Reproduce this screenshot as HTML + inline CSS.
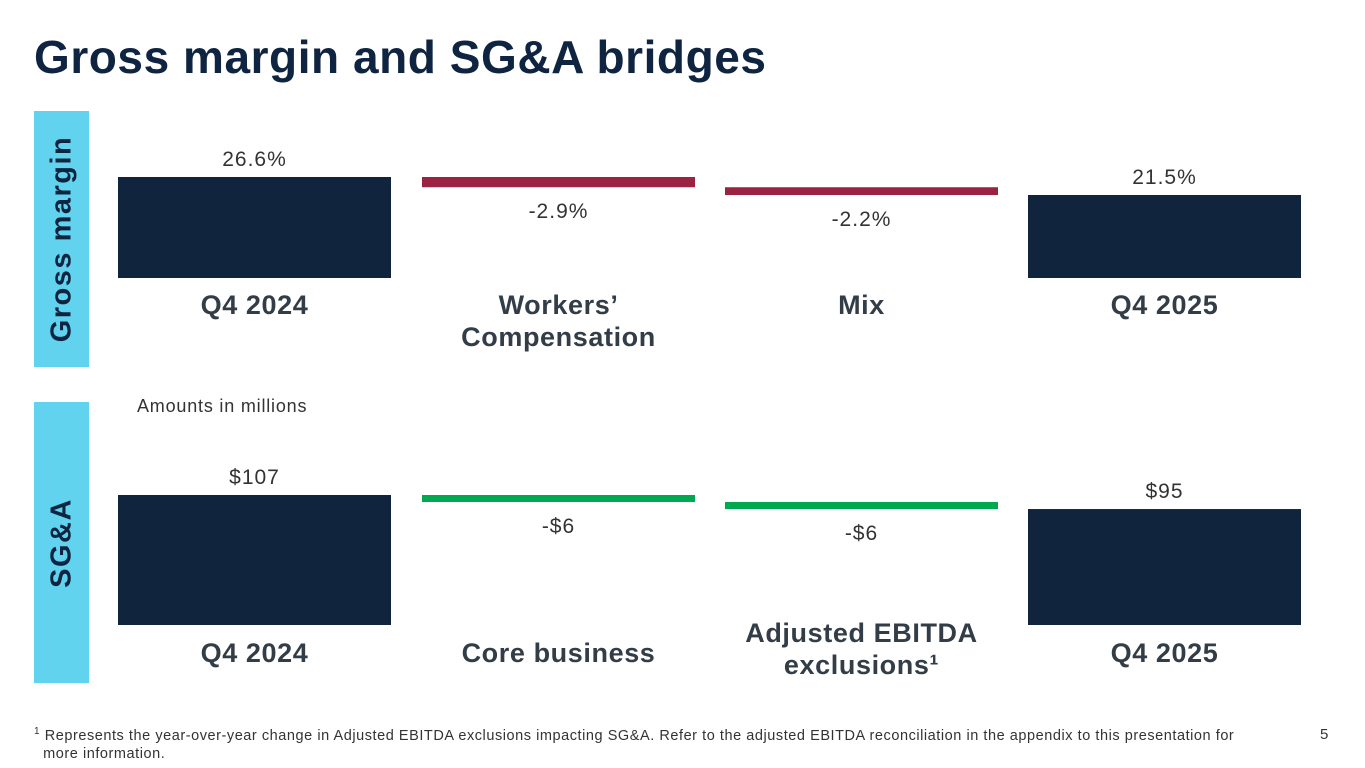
<!DOCTYPE html>
<html><head><meta charset="utf-8">
<style>
html,body{margin:0;padding:0;background:#fff;}
body{width:1365px;height:768px;position:relative;overflow:hidden;font-family:"Liberation Sans",sans-serif;}
.title{position:absolute;left:34px;top:30px;font-size:46px;font-weight:bold;color:#0f2440;letter-spacing:0.55px;}
.band{position:absolute;left:34px;width:55px;background:#62d3ee;}
.band span{position:absolute;left:50%;top:50%;transform:translate(-50%,-50%) rotate(-90deg);white-space:nowrap;font-size:29px;font-weight:bold;color:#0f2440;letter-spacing:1.5px;}
.note{position:absolute;left:137px;top:396px;font-size:18px;color:#333;letter-spacing:0.8px;}
.foot{position:absolute;left:34px;top:723px;font-size:14.5px;color:#333;line-height:18px;width:1260px;letter-spacing:0.55px;}
.pg{position:absolute;left:1320px;top:726px;font-size:15px;color:#333;}
svg{position:absolute;left:0;top:0;}
</style></head><body>
<div class="title">Gross margin and SG&amp;A bridges</div>
<div class="band" style="top:111px;height:256px"><span>Gross margin</span></div>
<div class="band" style="top:402px;height:281px"><span>SG&amp;A</span></div>
<div class="note">Amounts in millions</div>
<div class="foot"><sup style="font-size:10px">1</sup> Represents the year-over-year change in Adjusted EBITDA exclusions impacting SG&amp;A. Refer to the adjusted EBITDA reconciliation in the appendix to this presentation for<br>&nbsp;&nbsp;more information.</div>
<div class="pg">5</div>
<svg id="chart" width="1365" height="768"></svg>
<script>
const gmCategories = [["Q4 2024"],["Workers’","Compensation"],["Mix"],["Q4 2025"]];
const gmValues = [26.6, -2.9, -2.2, 21.5];
const gmLabels = ["26.6%","-2.9%","-2.2%","21.5%"];
const sgCategories = [["Q4 2024"],["Core business"],["Adjusted EBITDA","exclusions¹"],["Q4 2025"]];
const sgValues = [107, -6, -6, 95];
const sgLabels = ["$107","-$6","-$6","$95"];

const NS="http://www.w3.org/2000/svg";
const svg=document.getElementById('chart');
function mk(tag,attrs){const e=document.createElementNS(NS,tag);for(const k in attrs)e.setAttribute(k,attrs[k]);svg.appendChild(e);return e;}
const xs=[118,422,725,1028], bw=273;

function drawBridge(name,cats,vals,labels,cfg){
  const y=v=>cfg.refY-(v-cfg.refV)*cfg.k;
  let run=0;
  vals.forEach((v,i)=>{
    const total=(i===0||i===vals.length-1);
    let top,bot,col;
    if(total){top=y(v); bot=cfg.base; col="#10243e"; run=v;}
    else{const a=y(run),b=y(run+v); top=Math.min(a,b); bot=Math.max(a,b); col=cfg.neg; run+=v;}
    const r=mk('rect',{x:xs[i],y:top,width:bw,height:Math.max(bot-top,1),fill:col});
    
    
    const cx=xs[i]+bw/2;
    const t=mk('text',{x:cx,y:total?top-11:bot+31,'text-anchor':'middle','font-size':'21','fill':'#333','letter-spacing':'1'});
    t.textContent=labels[i];
    
    
    cats[i].forEach((ln,j)=>{
      const c=mk('text',{x:cx,y:cfg.catY-(cats[i].length>1&&cfg.up?20:0)+j*32,'text-anchor':'middle','font-size':'27','font-weight':'bold','fill':'#333d47','letter-spacing':'0.6'});
      c.textContent=ln;
      
      
    });
  });
}
drawBridge('gross-margin',gmCategories,gmValues,gmLabels,{refY:177,refV:26.6,k:3.53,base:278,neg:'#9b2242',catY:314,up:false});
drawBridge('sga',sgCategories,sgValues,sgLabels,{refY:495,refV:107,k:1.17,base:625,neg:'#00a94f',catY:662,up:true});
</script>
</body></html>
